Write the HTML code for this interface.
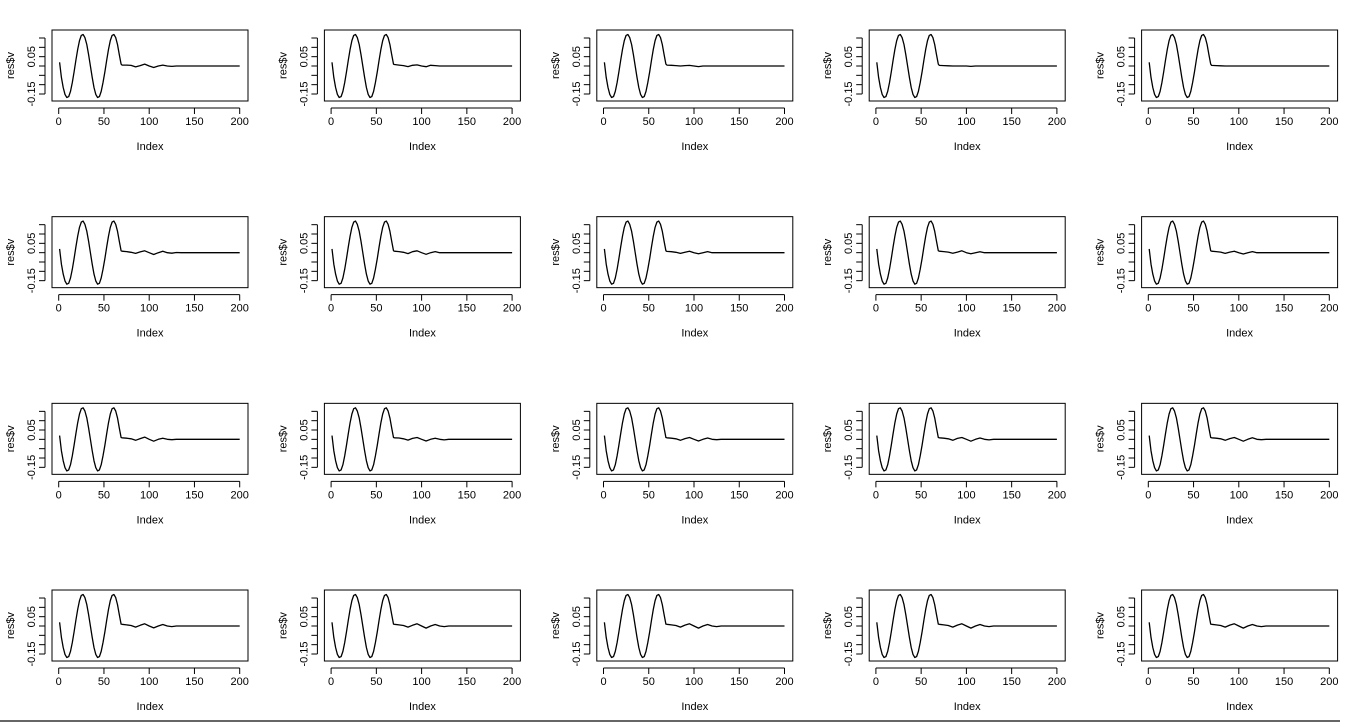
<!DOCTYPE html>
<html><head><meta charset="utf-8"><style>
html,body{margin:0;padding:0;background:#fff;}
svg{display:block;font-family:"Liberation Sans",Arial,sans-serif;}
</style></head><body>
<svg id="chart" width="1356" height="724" viewBox="0 0 1356 724"></svg>
<script>
// shared main oscillation (values at index 1,3,5,...,69)
const mainIdx = [1,3,5,7,9,11,13,15,17,19,21,23,25,27,29,31,33,35,37,39,41,43,45,47,49,51,53,55,57,59,61,63,65,67,69];
const mainVals = [0.02,-0.061,-0.115,-0.152,-0.169,-0.164,-0.136,-0.089,-0.031,0.031,0.089,0.136,0.164,0.169,0.152,0.115,0.061,0,-0.061,-0.115,-0.152,-0.169,-0.164,-0.136,-0.089,-0.031,0.031,0.089,0.136,0.164,0.169,0.152,0.115,0.061,0.01];
// tail indices and per-panel tail values
const tailIdx = [70,75,80,85,90,95,100,105,110,115,120,125,130,135,200];
const tails = [
 [0.005,0.005,0.003,-0.005,0.002,0.01,0.0,-0.008,0.0,0.005,0.0,-0.002,0,0,0],
 [0.008,0.005,0.002,-0.003,0.004,0.006,0.0,-0.004,0.004,0.002,0,0,0,0,0],
 [0.005,0.004,0.002,0.0,0.002,0.003,0.0,-0.003,0,0,0,0,0,0,0],
 [0.003,0.002,0.001,0.0,0.0,0.0,0.0,-0.002,0,0,0,0,0,0,0],
 [0.003,0.002,0.001,0.0,0.0,0.0,0.0,0.0,0,0,0,0,0,0,0],
 [0.008,0.006,0.002,-0.004,0.004,0.01,0.0,-0.01,0.0,0.008,0.0,-0.003,0.001,0,0],
 [0.008,0.006,0.002,-0.005,0.005,0.01,0.0,-0.009,0.0,0.006,0.0,0,0,0,0],
 [0.007,0.005,0.002,-0.004,0.002,0.008,0.0,-0.006,0.0,0.006,0.0,0,0,0,0],
 [0.008,0.006,0.003,-0.003,0.003,0.01,0.0,-0.006,0.0,0.005,0.0,0,0,0,0],
 [0.008,0.006,0.003,-0.004,0.003,0.008,0.0,-0.007,0.0,0.006,0.0,0,0,0,0],
 [0.008,0.006,0.003,-0.005,0.004,0.012,0.0,-0.01,0.0,0.006,0.0,-0.002,0,0,0],
 [0.008,0.007,0.003,-0.004,0.005,0.01,0.0,-0.009,0.0,0.006,0.0,-0.003,0,0,0],
 [0.008,0.006,0.003,-0.005,0.004,0.01,0.0,-0.009,0.0,0.007,0.0,-0.002,0,0,0],
 [0.008,0.006,0.003,-0.005,0.005,0.01,0.0,-0.01,0.0,0.007,0.0,-0.003,0,0,0],
 [0.008,0.006,0.003,-0.005,0.004,0.01,0.0,-0.01,0.0,0.008,0.0,-0.002,0,0,0],
 [0.009,0.006,0.003,-0.006,0.004,0.012,0.0,-0.01,0.0,0.008,0.0,-0.003,0,0,0],
 [0.009,0.006,0.003,-0.006,0.004,0.012,0.0,-0.011,0.0,0.008,0.0,-0.003,0,0,0],
 [0.009,0.006,0.003,-0.006,0.005,0.012,0.0,-0.011,0.0,0.008,0.0,-0.003,0,0,0],
 [0.009,0.006,0.003,-0.006,0.005,0.012,0.0,-0.011,0.0,0.008,0.0,-0.003,0,0,0],
 [0.009,0.006,0.003,-0.006,0.005,0.012,0.0,-0.011,0.0,0.008,0.0,-0.003,0,0,0]
];
const xTicks = [0,50,100,150,200];
const yTicks = [-0.15,-0.10,-0.05,0,0.05,0.10,0.15];
const yTickLabels = ["-0.15","","","","0.05","",""];

const NS="http://www.w3.org/2000/svg";
const svg=document.getElementById('chart');
function mk(tag,attrs,parent){const e=document.createElementNS(NS,tag);for(const k in attrs)e.setAttribute(k,attrs[k]);(parent||svg).appendChild(e);return e;}

for(let p=0;p<20;p++){
  const col=p%5,row=Math.floor(p/5);
  const L=52+col*272.4, T=30+row*186.67, W=196, H=71;
  const g=mk('g',{});
  
  
  const x=v=>L+6.7+(v/200)*181;
  const y=v=>T+36-(v/0.05)*9.33;
  const box=mk('rect',{x:L,y:T,width:W,height:H,fill:'none',stroke:'#000','stroke-width':1},g);
  
  
  // x axis
  const xa=mk('g',{},g);
  
  
  mk('line',{x1:x(xTicks[0]),x2:x(xTicks[xTicks.length-1]),y1:T+H+7,y2:T+H+7,stroke:'#000'},xa);
  xTicks.forEach(t=>{
    mk('line',{x1:x(t),x2:x(t),y1:T+H+7,y2:T+H+13,stroke:'#000'},xa);
    const tx=mk('text',{x:x(t),y:T+H+24,'font-size':11,'text-anchor':'middle'},xa);
    tx.textContent=t;
    
    
  });
  const xl=mk('text',{x:L+W/2,y:T+H+49,'font-size':11,'text-anchor':'middle'},g);
  xl.textContent='Index';
  
  
  // y axis
  const ya=mk('g',{},g);
  
  
  mk('line',{x1:L-7,x2:L-7,y1:y(yTicks[0]),y2:y(yTicks[yTicks.length-1]),stroke:'#000'},ya);
  yTicks.forEach((t,i)=>{
    mk('line',{x1:L-7,x2:L-13,y1:y(t),y2:y(t),stroke:'#000'},ya);
    if(yTickLabels[i]){
      const tx=mk('text',{x:0,y:0,'font-size':11,'text-anchor':'middle',transform:`translate(${L-17},${y(t)}) rotate(-90)`},ya);
      tx.textContent=yTickLabels[i];
      
      
    }
  });
  const yl=mk('text',{x:0,y:0,'font-size':11,'text-anchor':'middle',transform:`translate(${L-38},${T+H/2}) rotate(-90)`},g);
  yl.textContent='res$v';
  
  
  // series
  const pts=[];
  mainIdx.forEach((ix,i)=>pts.push([x(ix),y(mainVals[i])]));
  tailIdx.forEach((ix,i)=>pts.push([x(ix),y(tails[p][i])]));
  const path=mk('path',{d:'M'+pts.map(q=>q[0].toFixed(1)+','+q[1].toFixed(1)).join('L'),fill:'none',stroke:'#000','stroke-width':1.3,'stroke-linejoin':'round'},g);
  
  
}
const bl=mk('line',{x1:0,x2:1340,y1:721,y2:721,stroke:'#333','stroke-width':1.5});


</script>
</body></html>
